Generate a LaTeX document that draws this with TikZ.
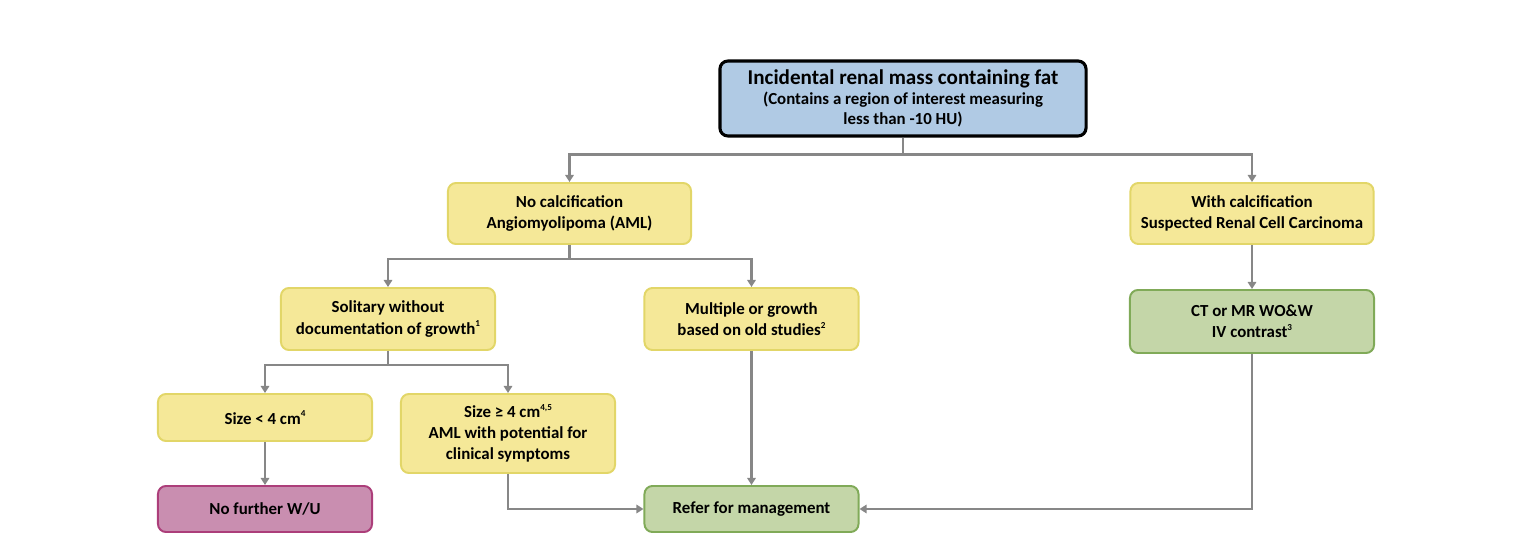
\documentclass[tikz,border=0pt]{standalone}
\usepackage{fontspec}
\setmainfont{Carlito}
\usetikzlibrary{arrows.meta}
\definecolor{massblue}{RGB}{176,202,228}
\definecolor{amlyellow}{RGB}{245,232,152}
\definecolor{amlyellowline}{RGB}{226,214,104}
\definecolor{actgreen}{RGB}{196,214,168}
\definecolor{actgreenline}{RGB}{128,170,88}
\definecolor{stopmagenta}{RGB}{201,142,176}
\definecolor{stopmagentaline}{RGB}{172,62,122}
\definecolor{linkgray}{RGB}{135,135,135}
\newcommand{\fnmark}[1]{\raisebox{0.9ex}{\fontsize{6.5}{7}\selectfont #1}}
\tikzset{
    box/.style={rounded corners=0.2cm, align=center, font=\bfseries\fontsize{12}{15}\selectfont, inner sep=2pt},
    yellowbox/.style={box, fill=amlyellow, draw=amlyellowline, line width=1.4pt},
    greenbox/.style={box, fill=actgreen, draw=actgreenline, line width=1.4pt},
    magentabox/.style={box, fill=stopmagenta, draw=stopmagentaline, line width=1.4pt},
    link/.style={draw=linkgray, line width=1.7pt, -{Triangle[length=5pt,width=6pt,fill=linkgray]}}
}
\begin{document}
\begin{tikzpicture}[x=0.025cm, y=-0.025cm]
                    \useasboundingbox (0, 0) rectangle (1515, 550);
                    \node[box, fill=massblue, draw=black, line width=2.2pt, minimum width=9.15cm, minimum height=1.875cm,
                        font=\bfseries\fontsize{12}{14}\selectfont] (mass) at (903, 98.5)
                        {{\fontsize{15}{17}\selectfont Incidental renal mass containing fat}\\(Contains a region of interest measuring\\less than -10 HU)};
                    \node[yellowbox, minimum width=6.075cm, minimum height=1.525cm] (nocalc) at (569.5, 213.5)
                        {No calcification\\Angiomyolipoma (AML)};
                    \node[yellowbox, minimum width=6.075cm, minimum height=1.525cm] (withcalc) at (1252, 213.5)
                        {With calcification\\Suspected Renal Cell Carcinoma};
                    \node[yellowbox, minimum width=5.35cm, minimum height=1.55cm] (solitary) at (388, 319)
                        {Solitary without\\documentation of growth\fnmark{1}};
                    \node[yellowbox, minimum width=5.35cm, minimum height=1.55cm] (multiple) at (751.5, 319)
                        {Multiple or growth\\based on old studies\fnmark{2}};
                    \node[greenbox, minimum width=6.1cm, minimum height=1.575cm] (ctmr) at (1252, 321.5)
                        {CT or MR WO\&W\\IV contrast\fnmark{3}};
                    \node[yellowbox, minimum width=5.35cm, minimum height=1.175cm] (small) at (265, 417.5)
                        {Size < 4 cm\fnmark{4}};
                    \node[yellowbox, minimum width=5.35cm, minimum height=1.975cm] (large) at (508, 433.5)
                        {Size ≥ 4 cm\fnmark{4,5}\\AML with potential for\\clinical symptoms};
                    \node[magentabox, minimum width=5.35cm, minimum height=1.15cm] (nofurther) at (265, 509)
                        {No further W/U};
                    \node[greenbox, minimum width=5.35cm, minimum height=1.15cm] (refer) at (751.5, 509)
                        {Refer for management};
                    \draw[link](mass.south) -- ++(0, 17) -| (nocalc.north);
                    \draw[link](mass.south) -- ++(0, 17) -| (withcalc.north);
                    \draw[link](nocalc.south) -- ++(0, 14) -| (solitary.north);
                    \draw[link](nocalc.south) -- ++(0, 14) -| (multiple.north);
                    \draw[link](solitary.south) -- ++(0, 14) -| (small.north);
                    \draw[link](solitary.south) -- ++(0, 14) -| (large.north);
                    \draw[link](withcalc) -- (ctmr);
                    \draw[link](small) -- (nofurther);
                    \draw[link](multiple) -- (refer);
                    \draw[link](large.south) |- (refer.west);
                    \draw[link](ctmr.south) |- (refer.east);
                \end{tikzpicture}
\end{document}
